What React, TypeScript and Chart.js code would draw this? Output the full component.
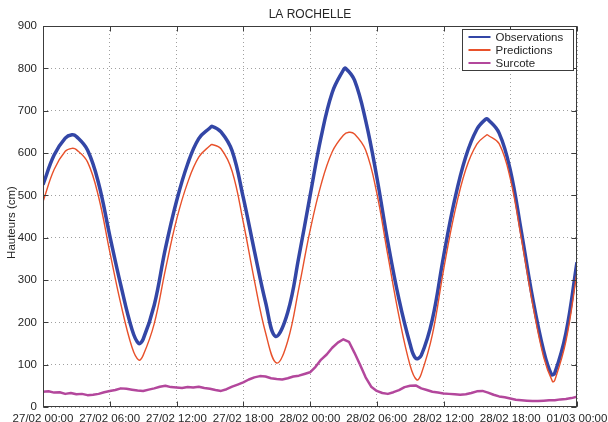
import React, { useEffect, useRef } from "react";
import { Chart, registerables } from "chart.js";

Chart.register(...registerables);

// ---- Text ----
const TITLE = "LA ROCHELLE";
const Y_TITLE = "Hauteurs (cm)";
const SERIES_NAMES = ["Observations", "Predictions", "Surcote"];

// ---- Axes (hours since 27/02 00:00) ----
const X_TICK_HOURS = [0, 6, 12, 18, 24, 30, 36, 42, 48];
const X_TICK_LABELS = [
  "27/02 00:00",
  "27/02 06:00",
  "27/02 12:00",
  "27/02 18:00",
  "28/02 00:00",
  "28/02 06:00",
  "28/02 12:00",
  "28/02 18:00",
  "01/03 00:00",
];
const Y_TICKS = [0, 100, 200, 300, 400, 500, 600, 700, 800, 900];

// ---- Observed water level (cm) ----
const OBS_HOURS = [
  0, 1, 2, 2.6, 3, 4, 5, 6, 7, 8, 8.6, 9, 10, 11, 12, 13, 14, 15, 15.2, 16, 17,
  18, 19, 20, 20.9, 22, 23, 24, 25, 26, 27, 27.2, 28, 29, 30, 31, 32, 33, 33.5,
  34, 35, 36, 37, 38, 39, 39.8, 40, 41, 42, 43, 44, 45, 45.7, 46, 47, 48,
];
const OBS_VALUES = [
  525, 595, 635, 643, 639, 607, 528, 405, 287, 183, 150, 160, 241, 374, 486, 574,
  634, 659, 663, 650, 605, 495, 369, 248, 167, 224, 355, 498, 638, 743, 796, 800,
  772, 677, 544, 389, 254, 148, 115, 122, 207, 355, 489, 591, 656, 680, 679, 647,
  560, 414, 259, 133, 77, 80, 174, 342,
];

// ---- Predicted tide (cm) ----
const PRED_HOURS = [
  0, 1, 2, 2.6, 3, 4, 5, 6, 7, 8, 8.6, 9, 10, 11, 12, 13, 14, 15, 15.2, 16, 17,
  18, 19, 20, 21, 22, 23, 24, 25, 26, 27, 27.5, 28, 29, 30, 31, 32, 33, 33.6, 34,
  35, 36, 37, 38, 39, 39.9, 40, 41, 42, 43, 44, 45, 45.8, 46, 47, 48,
];
const PRED_VALUES = [
  485, 561, 604, 611, 608, 579, 496, 367, 243, 141, 111, 122, 197, 324, 442, 530,
  590, 617, 620, 610, 557, 437, 299, 176, 104, 156, 281, 416, 526, 603, 642, 649,
  645, 607, 506, 358, 214, 98, 64, 78, 171, 323, 459, 561, 621, 643, 642, 622,
  540, 398, 245, 118, 60, 63, 155, 318,
];

// ---- Surge (cm), half-hourly ----
const SURGE_HOURS = [
  0, 0.5, 1, 1.5, 2, 2.5, 3, 3.5, 4, 4.5, 5, 5.5, 6, 6.5, 7, 7.5, 8, 8.5, 9, 9.5,
  10, 10.5, 11, 11.5, 12, 12.5, 13, 13.5, 14, 14.5, 15, 15.5, 16, 16.5, 17, 17.5,
  18, 18.5, 19, 19.5, 20, 20.5, 21, 21.5, 22, 22.5, 23, 23.5, 24, 24.5, 25, 25.5,
  26, 26.5, 27, 27.5, 28, 28.5, 29, 29.5, 30, 30.5, 31, 31.5, 32, 32.5, 33, 33.5,
  34, 34.5, 35, 35.5, 36, 36.5, 37, 37.5, 38, 38.5, 39, 39.5, 40, 40.5, 41, 41.5,
  42, 42.5, 43, 43.5, 44, 44.5, 45, 45.5, 46, 46.5, 47, 47.5, 48,
];
const SURGE_VALUES = [
  36, 37, 34, 35, 31, 33, 30, 31, 28, 29, 31, 35, 38, 40, 44, 43, 41, 39, 38, 41,
  44, 48, 50, 47, 46, 45, 47, 46, 48, 45, 43, 40, 38, 42, 48, 53, 58, 65, 70, 73,
  72, 68, 66, 65, 68, 72, 74, 78, 82, 95, 112, 124, 140, 152, 160, 154, 128, 100,
  70, 48, 38, 33, 31, 35, 40, 47, 50, 51, 44, 40, 36, 34, 32, 31, 30, 29, 30, 33,
  37, 38, 34, 29, 25, 23, 20, 17, 16, 15, 14, 14, 15, 16, 16, 18, 19, 21, 24,
];

const COLORS = ["#3346a6", "#e8512b", "#b3479c"];
const WIDTHS = [3.5, 1.4, 2.5];

const FONT = '"Liberation Sans", Arial, Helvetica, sans-serif';
const TEXT_COLOR = "#262626";
const FRAME_COLOR = "#3c3c3c";

const toPoints = (xs: number[], ys: number[]) =>
  xs.map((x, i) => ({ x, y: ys[i] }));

// Axes frame with inward tick marks, title, y-axis title and the legend box
const decorations = {
  id: "decorations",
  beforeDraw(chart: any) {
    const { ctx, width, height } = chart;
    ctx.save();
    ctx.fillStyle = "#ffffff";
    ctx.fillRect(0, 0, width, height);
    ctx.restore();
  },
  afterDatasetsDraw(chart: any) {
    const { ctx, chartArea: a, scales } = chart;
    const L = Math.round(a.left) + 0.5;
    const R = Math.round(a.right) - 0.5;
    const T = Math.round(a.top) + 0.5;
    const B = Math.round(a.bottom) - 0.5;
    const tick = 5;
    ctx.save();
    ctx.strokeStyle = FRAME_COLOR;
    ctx.lineWidth = 1;
    ctx.setLineDash([]);
    ctx.strokeRect(L, T, R - L, B - T);
    ctx.beginPath();
    X_TICK_HOURS.forEach((h) => {
      const px = Math.round(scales.x.getPixelForValue(h)) + 0.5;
      ctx.moveTo(px, B);
      ctx.lineTo(px, B - tick);
      ctx.moveTo(px, T);
      ctx.lineTo(px, T + tick);
    });
    Y_TICKS.forEach((v) => {
      const py = Math.round(scales.y.getPixelForValue(v)) + 0.5;
      ctx.moveTo(L, py);
      ctx.lineTo(L + tick, py);
      ctx.moveTo(R, py);
      ctx.lineTo(R - tick, py);
    });
    ctx.stroke();
    ctx.restore();
  },
  afterDraw(chart: any) {
    const { ctx, chartArea: a } = chart;
    ctx.save();
    ctx.fillStyle = TEXT_COLOR;

    // Title
    ctx.font = `12px ${FONT}`;
    ctx.textAlign = "center";
    ctx.textBaseline = "middle";
    ctx.fillText(TITLE, (a.left + a.right) / 2, 15);

    // Y-axis title
    ctx.save();
    ctx.translate(12, (a.top + a.bottom) / 2 + 6);
    ctx.rotate(-Math.PI / 2);
    ctx.font = `11.5px ${FONT}`;
    ctx.fillText(Y_TITLE, 0, 0);
    ctx.restore();

    // Legend
    const boxW = 111;
    const boxH = 41;
    const bx = Math.round(a.right - 4 - boxW) + 0.5;
    const by = Math.round(a.top + 3) + 0.5;
    ctx.fillStyle = "#ffffff";
    ctx.fillRect(bx, by, boxW, boxH);
    ctx.strokeStyle = FRAME_COLOR;
    ctx.lineWidth = 1;
    ctx.strokeRect(bx, by, boxW, boxH);
    ctx.font = `11.5px ${FONT}`;
    ctx.textAlign = "left";
    ctx.textBaseline = "middle";
    chart.data.datasets.forEach((ds: any, i: number) => {
      const rowY = by + 7.5 + i * 13;
      ctx.strokeStyle = ds.borderColor;
      ctx.lineWidth = 2;
      ctx.beginPath();
      ctx.moveTo(bx + 6, rowY);
      ctx.lineTo(bx + 28, rowY);
      ctx.stroke();
      ctx.fillStyle = TEXT_COLOR;
      ctx.fillText(ds.label, bx + 33, rowY + 0.5);
    });
    ctx.restore();
  },
};

export default function App() {
  const canvasRef = useRef<HTMLCanvasElement | null>(null);

  useEffect(() => {
    if (!canvasRef.current) return;
    const seriesData = [
      toPoints(OBS_HOURS, OBS_VALUES),
      toPoints(PRED_HOURS, PRED_VALUES),
      toPoints(SURGE_HOURS, SURGE_VALUES),
    ];
    const chart = new Chart(canvasRef.current, {
      type: "line",
      data: {
        datasets: SERIES_NAMES.map((name, i) => ({
          label: name,
          data: seriesData[i],
          borderColor: COLORS[i],
          backgroundColor: COLORS[i],
          borderWidth: WIDTHS[i],
          pointRadius: 0,
          fill: false,
          cubicInterpolationMode: "default",
          tension: i === 2 ? 0 : 0.4,
          borderJoinStyle: "round",
          order: 3 - i,
        })),
      },
      options: {
        animation: false,
        responsive: false,
        devicePixelRatio: 1,
        layout: { padding: { top: 26, right: 31, bottom: 0, left: 0 } },
        plugins: {
          legend: { display: false },
          tooltip: { enabled: false },
          title: { display: false },
        },
        scales: {
          x: {
            type: "linear",
            min: 0,
            max: 48,
            afterBuildTicks: (s: any) => {
              s.ticks = X_TICK_HOURS.map((v) => ({ value: v }));
            },
            afterFit: (s: any) => {
              s.height = 15;
              s.paddingLeft = 0;
              s.paddingRight = 0;
            },
            ticks: {
              autoSkip: false,
              maxRotation: 0,
              minRotation: 0,
              padding: 5,
              color: TEXT_COLOR,
              font: { family: FONT, size: 11.5 },
              callback: (v: any) => X_TICK_LABELS[X_TICK_HOURS.indexOf(Number(v))],
            },
            grid: {
              color: "rgba(120,120,120,0.7)",
              lineWidth: 1,
              drawTicks: false,
            },
            border: { display: false, dash: [1, 3] },
          },
          y: {
            type: "linear",
            min: 0,
            max: 900,
            afterBuildTicks: (s: any) => {
              s.ticks = Y_TICKS.map((v) => ({ value: v }));
            },
            afterFit: (s: any) => {
              s.width = 43;
              s.paddingTop = 0;
              s.paddingBottom = 0;
            },
            ticks: {
              padding: 6,
              color: TEXT_COLOR,
              font: { family: FONT, size: 11.5 },
            },
            grid: {
              color: "rgba(120,120,120,0.7)",
              lineWidth: 1,
              drawTicks: false,
            },
            border: { display: false, dash: [1, 3] },
          },
        },
      },
      plugins: [decorations],
    } as any);
    return () => chart.destroy();
  }, []);

  return (
    <div style={{ position: "absolute", left: 0, top: 0, width: 608, height: 422 }}>
      <canvas
        ref={canvasRef}
        width={608}
        height={422}
        style={{ display: "block", width: 608, height: 422 }}
      />
    </div>
  );
}
